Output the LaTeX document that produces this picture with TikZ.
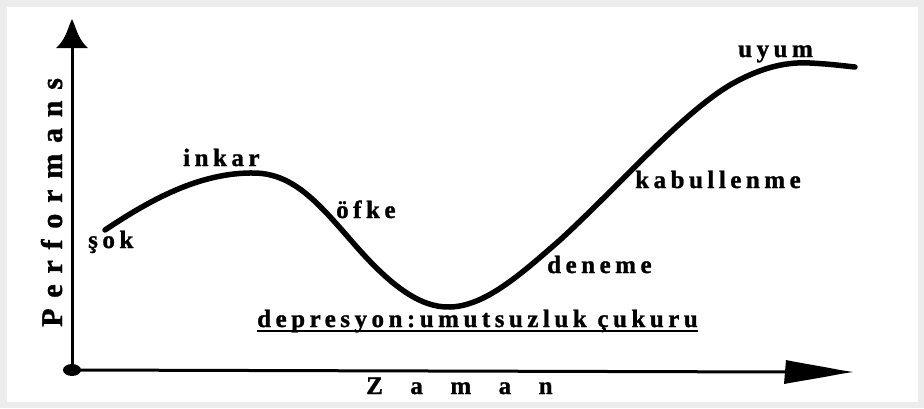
\documentclass[tikz,border=0pt]{standalone}
\usepackage{fontspec}
\setmainfont{Liberation Serif}
\newfontfamily\labfont{Liberation Serif}[LetterSpace=18, FakeBold=1.2]
\newfontfamily\zamanfont{Liberation Serif}[LetterSpace=110, FakeBold=1.2]
\newfontfamily\perffont{Liberation Serif}[LetterSpace=36, FakeBold=1.2]
\begin{document}
\begin{tikzpicture}[x=1pt,y=-1pt,
  lab/.style={anchor=base west, inner sep=0pt, font=\labfont\bfseries\fontsize{25}{25}\selectfont},
  axis/.style={line width=3pt, black},
  curve/.style={line width=5.5pt, black, line cap=round, line join=round}]
\useasboundingbox (0,0) rectangle (924,408);
\fill[gray!15] (0,0) rectangle (924,408);
\fill[white] (7,7) rectangle (918,402);
% axes
\coordinate (O) at (72,370);
\coordinate (Ytip) at (72,19);
\coordinate (Xtip) at (853,372);
\draw[axis] (O) -- (72,45);
\draw[axis] (O) -- (790,372);
\fill (Ytip) -- (69,26) .. controls (66,36) and (61,44) .. (56,48) -- (88,48) .. controls (83,44) and (78,36) .. (75,26) -- cycle;
\fill (Xtip) -- (840,370) .. controls (820,366) and (800,363) .. (786,360) -- (784,384) .. controls (800,381) and (820,378) .. (840,374) -- cycle;
\fill (O) ellipse [x radius=9, y radius=6];
% curve
\coordinate (c0) at (105,230);
\coordinate (c1) at (255,173);
\coordinate (c2) at (355,245);
\coordinate (c3) at (450,307);
\coordinate (c4) at (560,240);
\coordinate (c5) at (730,85);
\coordinate (c6) at (810,63);
\coordinate (c7) at (855,67);
\draw[curve] (c0) .. controls (150,200) and (200,172) .. (c1)
  .. controls (295,174) and (320,205) .. (c2)
  .. controls (390,285) and (420,308) .. (c3)
  .. controls (485,306) and (520,275) .. (c4)
  .. controls (620,185) and (680,115) .. (c5)
  .. controls (765,65) and (790,62) .. (c6)
  .. controls (830,64) and (845,66) .. (c7);
% labels
\node[lab] (sok) at (88,248) {şok};
\node[lab] (inkar) at (183,166) {inkar};
\node[lab] (ofke) at (336,218) {öfke};
\node[lab] (deneme) at (547,273) {deneme};
\node[lab] (kabul) at (635,188) {kabullenme};
\node[lab] (uyum) at (738,57) {uyum};
\node[lab] (dep) at (257,327) {depresyon:umutsuzluk çukuru};
\draw[line width=1.8pt] ([yshift=-4pt]dep.base west) -- ([yshift=-4pt]dep.base east);
\node[anchor=base west, inner sep=0pt, font=\zamanfont\bfseries\fontsize{25}{25}\selectfont] (zaman) at (366,394) {Zaman};
\node[anchor=base west, inner sep=0pt, rotate=90, font=\perffont\bfseries\fontsize{30}{30}\selectfont] (perf) at (62,327) {Performans};
\end{tikzpicture}
\end{document}
